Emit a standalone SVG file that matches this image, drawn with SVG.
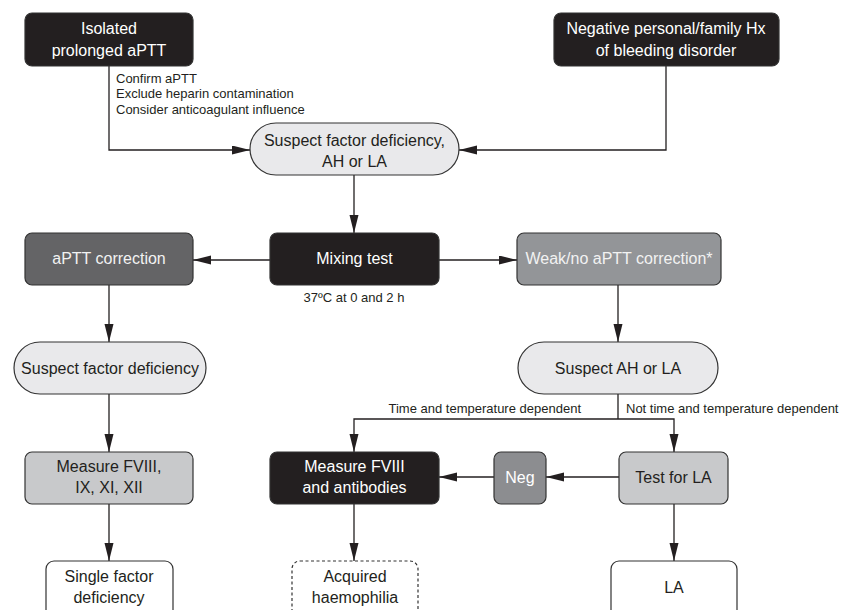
<svg xmlns="http://www.w3.org/2000/svg" width="843" height="610" viewBox="0 0 843 610">
<style>
text{font-family:"Liberation Sans",Arial,sans-serif;}
.t{font-size:16px;text-anchor:middle;}
.s{font-size:13px;fill:#231f20;}
.w{fill:#ffffff;}
.wl{fill:#f2f2f2;}
.d{fill:#231f20;}
.box{stroke:#333333;stroke-width:1.2;}
.blk{fill:#231f20;}
.dg{fill:#646466;}
.mg{fill:#939598;}
.lg{fill:#c8c9cb;}
.pale{fill:#e9e9eb;}
.wh{fill:#ffffff;}
.con{fill:none;stroke:#231f20;stroke-width:1.3;}
</style>
<defs>
<marker id="ah" markerUnits="userSpaceOnUse" markerWidth="18" markerHeight="10" refX="18" refY="4.5" orient="auto">
<path d="M0,0 L18,4.5 L0,9 z" fill="#231f20"/>
</marker>
</defs>
<rect width="843" height="610" fill="#ffffff"/>
<g id="connectors">
<polyline class="con" points="109,66 109,150 250,150" marker-end="url(#ah)"/>
<polyline class="con" points="666,66 666,150 459,150" marker-end="url(#ah)"/>
<line class="con" x1="354" y1="175" x2="354" y2="233" marker-end="url(#ah)"/>
<line class="con" x1="270" y1="260" x2="193" y2="260" marker-end="url(#ah)"/>
<line class="con" x1="439" y1="260" x2="517" y2="260" marker-end="url(#ah)"/>
<line class="con" x1="109" y1="285" x2="109" y2="342" marker-end="url(#ah)"/>
<line class="con" x1="618" y1="285" x2="618" y2="342" marker-end="url(#ah)"/>
<line class="con" x1="109" y1="394" x2="109" y2="452" marker-end="url(#ah)"/>
<line class="con" x1="618" y1="394" x2="618" y2="419"/>
<polyline class="con" points="618,419 354,419 354,452" marker-end="url(#ah)"/>
<polyline class="con" points="618,419 674,419 674,452" marker-end="url(#ah)"/>
<line class="con" x1="619" y1="477" x2="546" y2="477" marker-end="url(#ah)"/>
<line class="con" x1="494" y1="477" x2="439" y2="477" marker-end="url(#ah)"/>
<line class="con" x1="109" y1="504" x2="109" y2="561" marker-end="url(#ah)"/>
<line class="con" x1="354" y1="504" x2="354" y2="561" marker-end="url(#ah)"/>
<line class="con" x1="674" y1="504" x2="674" y2="561" marker-end="url(#ah)"/>
<text class="s" x="116" y="83">Confirm aPTT</text>
<text class="s" x="116" y="98">Exclude heparin contamination</text>
<text class="s" x="116" y="114">Consider anticoagulant influence</text>
<text class="s" x="354" y="302" text-anchor="middle">37ºC at 0 and 2 h</text>
<text class="s" x="581" y="413" text-anchor="end">Time and temperature dependent</text>
<text class="s" x="626" y="413">Not time and temperature dependent</text>
</g>
<g id="isolated">
<rect class="box blk" x="25" y="13" width="168" height="53" rx="7"/>
<text class="t w" x="109" y="34">Isolated</text>
<text class="t w" x="109" y="56">prolonged aPTT</text>
</g>
<g id="negative">
<rect class="box blk" x="554" y="13" width="225" height="53" rx="7"/>
<text class="t w" x="666" y="34">Negative personal/family Hx</text>
<text class="t w" x="666" y="56">of bleeding disorder</text>
</g>
<g id="suspect1">
<rect class="box pale" x="250" y="123" width="209" height="52" rx="26"/>
<text class="t d" x="354.5" y="146">Suspect factor deficiency,</text>
<text class="t d" x="354.5" y="167">AH or LA</text>
</g>
<g id="mixing">
<rect class="box blk" x="270" y="233" width="169" height="52" rx="7"/>
<text class="t w" x="354.5" y="264">Mixing test</text>
</g>
<g id="correction">
<rect class="box dg" x="25" y="233" width="168" height="52" rx="7"/>
<text class="t wl" x="109" y="264">aPTT correction</text>
</g>
<g id="weak">
<rect class="box mg" x="517" y="233" width="204" height="52" rx="7"/>
<text class="t wl" x="619" y="264">Weak/no aPTT correction*</text>
</g>
<g id="suspectfactor">
<rect class="box pale" x="14" y="342" width="192" height="52" rx="26"/>
<text class="t d" x="110" y="374">Suspect factor deficiency</text>
</g>
<g id="suspectAH">
<rect class="box pale" x="518" y="342" width="200" height="52" rx="26"/>
<text class="t d" x="618" y="374">Suspect AH or LA</text>
</g>
<g id="measurefactors">
<rect class="box lg" x="25" y="452" width="168" height="52" rx="7"/>
<text class="t d" x="109" y="472">Measure FVIII,</text>
<text class="t d" x="109" y="493">IX, XI, XII</text>
</g>
<g id="measureab">
<rect class="box blk" x="270" y="452" width="169" height="52" rx="7"/>
<text class="t w" x="354.5" y="472">Measure FVIII</text>
<text class="t w" x="354.5" y="493">and antibodies</text>
</g>
<g id="neg">
<rect class="box mg" x="494" y="452" width="52" height="52" rx="7" style="fill:#8c8d90"/>
<text class="t w" x="520" y="483">Neg</text>
</g>
<g id="testLA">
<rect class="box lg" x="619" y="452" width="109" height="52" rx="7"/>
<text class="t d" x="673.5" y="483">Test for LA</text>
</g>
<g id="single">
<rect class="box wh" x="46" y="561" width="127" height="60" rx="8"/>
<text class="t d" x="109" y="582">Single factor</text>
<text class="t d" x="109" y="603">deficiency</text>
</g>
<g id="acquired">
<rect class="box wh" x="292" y="561" width="126" height="60" rx="8" stroke-dasharray="3,2.5"/>
<text class="t d" x="355" y="582">Acquired</text>
<text class="t d" x="355" y="603">haemophilia</text>
</g>
<g id="la">
<rect class="box wh" x="611" y="561" width="126" height="60" rx="8"/>
<text class="t d" x="674" y="593">LA</text>
</g>
</svg>
